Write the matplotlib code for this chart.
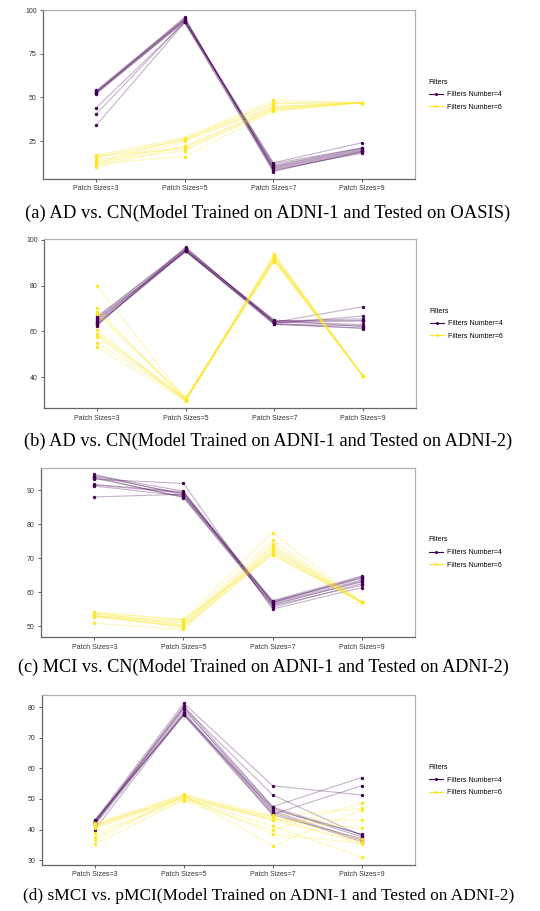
import matplotlib
matplotlib.use("Agg")
import matplotlib.pyplot as plt
from matplotlib.lines import Line2D

# ---------------- data ----------------
patch_labels = ["Patch Sizes=3", "Patch Sizes=5", "Patch Sizes=7", "Patch Sizes=9"]
group_labels = ["Filters Number=4", "Filters Number=6"]
legend_title = "Filters"

# each list: values at one patch size (one entry per run)
A_F4_3 = [54.0, 53.5, 53.0, 52.5, 52.0, 53.0, 44.0, 40.5, 34.0, 52.5]
A_F4_5 = [95.5, 94.5, 96.0, 93.5, 94.0, 95.0, 93.0, 93.5, 93.0, 94.5]
A_F4_7 = [9.0, 10.0, 8.0, 12.5, 11.0, 9.5, 8.5, 10.5, 7.5, 12.0]
A_F4_9 = [19.0, 20.0, 18.5, 24.0, 21.0, 19.5, 18.0, 20.5, 19.0, 21.0]
A_F6_3 = [17.0, 16.0, 15.0, 14.0, 13.0, 12.0, 11.0, 10.0, 12.5, 16.5]
A_F6_5 = [27.0, 26.0, 25.5, 21.5, 19.5, 16.0, 25.0, 22.0, 26.5, 20.5]
A_F6_7 = [48.5, 46.5, 45.0, 44.0, 43.0, 42.0, 44.5, 43.5, 47.0, 42.5]
A_F6_9 = [47.0, 47.0, 47.0, 47.0, 47.0, 47.0, 47.0, 47.0, 47.0, 47.0]

B_F4_3 = [63.0, 64.0, 65.0, 66.0, 63.5, 64.5, 62.5, 65.5, 66.5, 63.0]
B_F4_5 = [95.0, 95.5, 96.0, 96.5, 95.0, 95.5, 97.0, 95.0, 96.0, 95.5]
B_F4_7 = [64.0, 63.5, 64.5, 64.0, 63.0, 65.0, 63.5, 64.0, 64.5, 63.0]
B_F4_9 = [70.8, 66.7, 65.5, 64.5, 62.5, 62.0, 61.2, 63.0, 64.8, 61.5]
B_F6_3 = [80.0, 70.0, 68.5, 67.5, 60.5, 59.0, 58.5, 57.5, 55.0, 53.0]
B_F6_5 = [30.0, 29.5, 31.0, 30.5, 29.5, 30.0, 31.0, 29.8, 30.5, 29.6]
B_F6_7 = [94.0, 92.0, 91.0, 93.0, 92.5, 90.5, 91.5, 93.5, 92.0, 91.0]
B_F6_9 = [40.5, 40.5, 40.5, 40.5, 40.5, 40.5, 40.5, 40.5, 40.5, 40.5]

C_F4_3 = [94.6, 94.0, 93.5, 93.2, 91.7, 91.2, 88.0, 94.3, 93.8, 91.5]
C_F4_5 = [88.5, 89.0, 88.0, 92.0, 89.5, 88.3, 88.8, 89.7, 87.8, 89.2]
C_F4_7 = [57.0, 56.5, 56.0, 55.0, 57.3, 56.8, 57.5, 55.5, 56.2, 57.0]
C_F4_9 = [64.5, 63.0, 62.0, 61.3, 64.0, 63.5, 64.7, 62.5, 63.2, 64.2]
C_F6_3 = [54.2, 53.6, 53.1, 52.6, 50.8, 53.8, 53.3, 52.8, 54.0, 53.0]
C_F6_5 = [51.8, 51.0, 50.5, 50.0, 49.0, 52.0, 49.5, 51.5, 50.2, 49.8]
C_F6_7 = [77.5, 75.3, 74.2, 73.0, 72.0, 70.9, 72.5, 71.5, 73.5, 71.0]
C_F6_9 = [57.0, 57.0, 57.0, 57.0, 57.0, 57.0, 57.0, 57.0, 57.0, 57.0]

D_F4_3 = [43.0, 42.5, 42.0, 41.5, 42.8, 40.0, 42.2, 41.8, 43.0, 42.5]
D_F4_5 = [81.3, 80.0, 79.3, 78.0, 77.5, 77.8, 79.8, 78.5, 77.4, 80.5]
D_F4_7 = [54.3, 51.3, 47.5, 45.0, 46.5, 47.0, 46.0, 45.5, 44.8, 47.3]
D_F4_9 = [51.3, 38.0, 57.0, 54.3, 38.5, 37.6, 36.5, 36.0, 37.0, 38.3]
D_F6_3 = [42.0, 41.5, 41.0, 40.4, 39.0, 37.6, 36.5, 35.2, 41.8, 40.8]
D_F6_5 = [51.5, 51.0, 50.5, 50.0, 49.3, 50.8, 51.2, 49.8, 50.3, 51.3]
D_F6_7 = [44.7, 44.0, 43.1, 41.1, 39.8, 38.5, 34.7, 43.5, 44.3, 43.0]
D_F6_9 = [36.8, 35.2, 43.1, 30.9, 48.8, 35.5, 46.4, 40.5, 46.9, 36.0]

A_ticks = [25, 50, 75, 100]
B_ticks = [40, 60, 80, 100]
C_ticks = [50, 60, 70, 80, 90]
D_ticks = [30, 40, 50, 60, 70, 80]

captions = [
    "(a) AD vs. CN(Model Trained on ADNI-1 and Tested on OASIS)",
    "(b) AD vs. CN(Model Trained on ADNI-1 and Tested on ADNI-2)",
    "(c) MCI vs. CN(Model Trained on ADNI-1 and Tested on ADNI-2)",
    "(d) sMCI vs. pMCI(Model Trained on ADNI-1 and Tested on ADNI-2)",
]

# ---------------- style ----------------
W, H = 540, 911
colors = ["#440154", "#FDE725"]
sans = ["Liberation Sans", "DejaVu Sans"]
serif = ["Liberation Serif", "DejaVu Serif"]

fig = plt.figure(figsize=(W / 100, H / 100), dpi=100)

panels = [
    dict(box=(43, 10.3, 415, 179), ylim=(3.2, 100), ticks=A_ticks,
         groups=[(A_F4_3, A_F4_5, A_F4_7, A_F4_9), (A_F6_3, A_F6_5, A_F6_7, A_F6_9)],
         cap=(268, 213, 13.4)),
    dict(box=(44, 239.3, 416, 408.3), ylim=(26.3, 100.3), ticks=B_ticks,
         groups=[(B_F4_3, B_F4_5, B_F4_7, B_F4_9), (B_F6_3, B_F6_5, B_F6_7, B_F6_9)],
         cap=(268, 441.5, 13.2)),
    dict(box=(41, 467.7, 415, 637.3), ylim=(46.7, 96.6), ticks=C_ticks,
         groups=[(C_F4_3, C_F4_5, C_F4_7, C_F4_9), (C_F6_3, C_F6_5, C_F6_7, C_F6_9)],
         cap=(263, 667, 13.15)),
    dict(box=(41.5, 695.3, 415, 865), ylim=(28.4, 83.9), ticks=D_ticks,
         groups=[(D_F4_3, D_F4_5, D_F4_7, D_F4_9), (D_F6_3, D_F6_5, D_F6_7, D_F6_9)],
         cap=(268.5, 896, 12.4)),
]

xs = list(range(len(patch_labels)))
for p, cap in zip(panels, captions):
    l, t, r, b = p["box"]
    ax = fig.add_axes([l / W, 1 - b / H, (r - l) / W, (b - t) / H])
    for gi, grp in enumerate(p["groups"]):
        c = colors[gi]
        for run in range(len(grp[0])):
            ys = [col[run] for col in grp]
            ax.plot(xs, ys, color=c, alpha=0.3, lw=0.8, zorder=2 + gi)
        for xi, col in zip(xs, grp):
            ax.scatter([xi] * len(col), col, s=6, color=c, zorder=5 + gi,
                       linewidths=0)
    ax.set_xlim(-0.6, 3.6)
    ax.set_ylim(*p["ylim"])
    ax.set_xticks(xs)
    ax.set_xticklabels(patch_labels, fontsize=5, family=sans, color="#333333")
    ax.set_yticks(p["ticks"])
    ax.set_yticklabels([str(v) for v in p["ticks"]], fontsize=5, family=sans,
                       color="#333333")
    ax.tick_params(axis="both", length=2.5, width=0.6, color="#444444", pad=2)
    for side in ["top", "right"]:
        ax.spines[side].set_color("#b0b0b0")
        ax.spines[side].set_linewidth(0.9)
    for side in ["left", "bottom"]:
        ax.spines[side].set_color("#666666")
        ax.spines[side].set_linewidth(0.9)

    handles = [Line2D([0], [0], color=colors[i], lw=0.8, marker="o",
                      markersize=2.2, markeredgewidth=0,
                      label=group_labels[i]) for i in range(2)]
    leg = ax.legend(handles=handles, title=legend_title, loc="center left",
                    bbox_to_anchor=(1.02, 0.5), frameon=False,
                    prop={"family": sans, "size": 5},
                    title_fontproperties={"family": sans, "size": 5},
                    handlelength=2.0, handletextpad=0.6, labelspacing=0.8)
    leg._legend_box.align = "left"

    cx, cy, cs = p["cap"]
    fig.text(cx / W, 1 - cy / H, cap, ha="center", va="center",
             family=serif, fontsize=cs, color="black")

fig.savefig("out.png", dpi=100)
